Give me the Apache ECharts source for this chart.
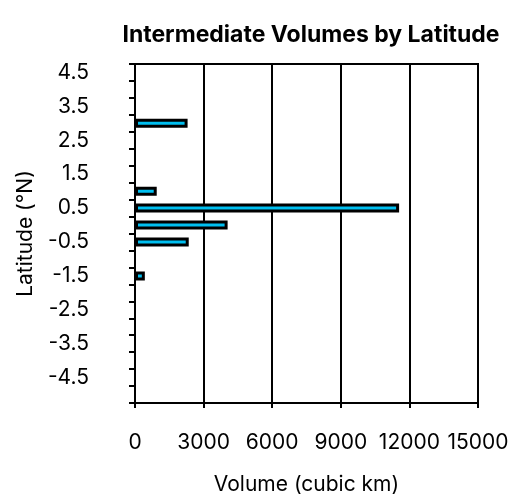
<!DOCTYPE html>
<html>
<head>
<meta charset="utf-8">
<script src="https://cdn.jsdelivr.net/npm/echarts@6/dist/echarts.min.js"></script>
<style>
  html, body { margin: 0; padding: 0; background: #fff; }
  #chart { width: 516px; height: 504px; }
</style>
</head>
<body>
<div id="chart"></div>
<script>
// latitude bands, bottom to top (0.5 degree steps)
const latitudes = ['-5', '-4.5', '-4', '-3.5', '-3', '-2.5', '-2', '-1.5', '-1', '-0.5',
                   '0', '0.5', '1', '1.5', '2', '2.5', '3', '3.5', '4', '4.5'];
// volume per band (cubic km), null = no bar
const volumes = [null, null, null, null, null, null, null, 430, null, 2350,
                 4050, 11550, 950, null, null, null, 2300, null, null, null];
const xTicks = [0, 3000, 6000, 9000, 12000, 15000];

const font = 'Inter, Liberation Sans, Arial, sans-serif';
const chart = echarts.init(document.getElementById('chart'));

chart.setOption({
  animation: false,
  title: {
    text: 'Intermediate Volumes by Latitude',
    left: 306,
    top: 19,
    textAlign: 'center',
    textStyle: { fontFamily: font, fontSize: 23, fontWeight: 'bold', color: '#000' }
  },
  grid: {
    left: 135, right: 38, top: 64, bottom: 101,
    show: true, borderColor: '#000', borderWidth: 2
  },
  xAxis: {
    type: 'value',
    min: xTicks[0],
    max: xTicks[xTicks.length - 1],
    interval: 3000,
    name: 'Volume (cubic km)',
    nameLocation: 'middle',
    nameGap: 71,
    nameTextStyle: { fontFamily: font, fontSize: 21, color: '#000' },
    axisLine: { show: true, lineStyle: { color: '#000', width: 2 } },
    axisTick: { show: true, length: 5, lineStyle: { color: '#000', width: 2 } },
    axisLabel: {
      margin: 29, fontFamily: font, fontSize: 21, color: '#000',
      formatter: function (v) { return String(v); }
    },
    splitLine: { show: true, lineStyle: { color: '#000', width: 2 } }
  },
  yAxis: {
    type: 'category',
    data: latitudes,
    name: 'Latitude (°N)',
    nameLocation: 'middle',
    nameGap: 99,
    nameTextStyle: { fontFamily: font, fontSize: 21, color: '#000' },
    axisLine: { show: true, lineStyle: { color: '#000', width: 2 } },
    axisTick: { show: true, interval: 0, length: 6, lineStyle: { color: '#000', width: 2 } },
    axisLabel: {
      interval: function (i) { return i % 2 === 1; },
      margin: 46,
      fontFamily: font, fontSize: 21, color: '#000'
    },
    splitLine: { show: false }
  },
  series: [{
    type: 'bar',
    data: volumes,
    barWidth: 9,
    itemStyle: { color: '#00bff0', borderColor: '#000', borderWidth: 3 }
  }]
});
</script>
</body>
</html>
